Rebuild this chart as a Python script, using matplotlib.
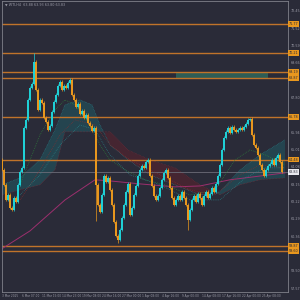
import matplotlib
matplotlib.use("Agg")
import matplotlib.pyplot as plt
import numpy as np

BG = "#2a2b38"
BULL = "#1fd0d6"
BEAR = "#e8971e"
LEVEL = "#c0732a"

# candle closes (H4), first open separately
first_open = 64.48
closes = [
    63.94, 63.14, 62.33, 62.60, 61.91, 61.80, 62.44, 62.23, 63.14, 63.83,
    64.05, 66.19, 66.62, 67.69, 68.34, 68.55, 69.73, 68.23, 67.16, 67.69,
    67.53, 66.73, 66.52, 66.09, 66.30, 67.05, 67.59, 67.96, 68.44, 68.66,
    68.23, 68.44, 68.34, 68.60, 68.77, 67.96, 67.69, 67.32, 67.48, 66.94,
    67.10, 66.73, 66.89, 66.46, 66.30, 66.03, 66.19, 63.14, 62.07, 61.69,
    62.60, 63.62, 63.30, 63.51, 62.87, 62.07, 61.16, 60.40, 60.19, 60.73,
    61.37, 62.07, 62.76, 63.19, 61.53, 61.91, 62.60, 63.08, 63.62, 63.94,
    64.16, 64.05, 64.37, 64.48, 63.62, 63.08, 62.55, 62.33, 62.55, 62.98,
    63.41, 63.78, 63.94, 63.51, 62.98, 62.44, 62.07, 62.33, 62.55, 62.33,
    62.76, 62.44, 62.07, 61.26, 61.80, 62.33, 62.55, 62.23, 62.66, 62.44,
    62.07, 62.55, 62.76, 62.44, 62.66, 62.98, 62.76, 63.19, 63.62, 64.21,
    65.01, 65.66, 65.98, 66.19, 65.93, 66.25, 66.09, 65.98, 66.09, 66.19,
    66.09, 66.25, 66.41, 66.62, 66.68, 65.82, 65.28, 65.12, 64.75, 64.21,
    63.94, 63.62, 63.94, 64.16, 64.26, 64.48, 64.21, 64.59, 64.75, 64.37,
    63.83,
]
spike_idx = [16, 58, 93, 124, 47]
spike_val = [70.21, 60.03, 60.73, 66.73, 61.20]

levels = [71.77, 70.21, 69.19, 68.87, 66.78, 64.48, 59.87, 59.60]
current = 63.83

zone_x = [87.0, 133.0]
zone_y = [68.87, 69.19]

ma_long_x = [-1, 14, 31.5, 46.5, 54, 69, 86.5, 99, 114, 141.5]
ma_long_y = [59.65, 60.67, 62.33, 63.41, 63.35, 63.19, 63.03, 63.08, 63.41, 63.78]
ma_green_x = [9, 14, 19, 26.5, 31.5, 36.5, 44, 49, 54, 61.5, 71.5, 81.5, 94, 106.5, 116.5, 124, 131.5, 141.5]
ma_green_y = [63.14, 64.48, 65.82, 67.16, 67.69, 67.43, 66.35, 65.28, 64.48, 63.94, 63.41, 63.14, 62.60, 62.87, 64.48, 65.01, 64.75, 64.21]
ma_red_x = [9, 19, 29, 36.5, 46.5, 54, 64, 79, 94, 106.5, 119, 129, 141.5]
ma_red_y = [62.33, 63.94, 65.82, 66.62, 66.35, 65.28, 64.48, 63.67, 62.87, 62.60, 63.67, 64.21, 64.05]
ma_teal_x = [9, 19, 29, 39, 46.5, 54, 64, 79, 94, 109, 121.5, 131.5, 141.5]
ma_teal_y = [62.60, 63.67, 65.28, 66.35, 66.09, 64.75, 63.67, 63.14, 62.33, 62.33, 63.51, 64.05, 64.05]

cloud_x = [0, 9, 19, 26.5, 31.5, 39, 45, 49, 54, 63, 74, 86.5, 99, 109, 119, 129, 141.5]
span_a = [63.14, 63.51, 64.48, 66.09, 67.43, 67.69, 67.43, 66.35, 65.28, 64.48, 63.67, 63.14, 62.60, 62.76, 63.94, 64.75, 65.55]
span_b = [62.60, 62.87, 63.14, 63.94, 65.98, 65.98, 65.98, 65.98, 65.98, 65.01, 64.48, 64.05, 63.14, 62.60, 63.14, 63.41, 63.51]

price_ticks = [72.45, 71.52, 70.59, 69.66, 67.80, 65.94, 65.01,
               64.08, 63.15, 62.22, 61.29, 60.36, 58.50, 57.57]
date_pos = [0, 10, 20, 30, 40, 50, 60, 70, 80, 90, 100, 110, 120, 130]
date_labels = ["3 Mar 2025", "6 Mar 07:00", "11 Mar 15:00", "14 Mar 23:00",
               "19 Mar 08:00", "24 Mar 16:00", "27 Mar 00:00", "1 Apr 08:00",
               "4 Apr 16:00", "9 Apr 00:00", "14 Apr 08:00", "17 Apr 16:00",
               "22 Apr 00:00", "25 Apr 08:00"]

fig = plt.figure(figsize=(3, 3), dpi=100, facecolor=BG)
ax = fig.add_axes([0.005, 0.027, 0.955, 0.970], facecolor=BG)
ax.set_xlim(-0.25, 143.0)
ax.set_ylim(57.40, 73.00)

# cloud
ca, cb = np.array(span_a), np.array(span_b)
ax.fill_between(cloud_x, ca, cb, where=ca >= cb, interpolate=True,
                color="#1d6a74", alpha=0.4, lw=0, zorder=1)
ax.fill_between(cloud_x, ca, cb, where=ca < cb, interpolate=True,
                color="#6e1e28", alpha=0.4, lw=0, zorder=1)
ax.plot(cloud_x, span_a, color="#2a8f96", lw=0.4, ls=":", zorder=1)
ax.plot(cloud_x, span_b, color="#8a2a35", lw=0.4, ls=":", zorder=1)

# zone + levels
ax.fill_between(zone_x, zone_y[0], zone_y[1], color="#2f6a5e", alpha=0.8, lw=0, zorder=1)
for lv in levels:
    ax.axhline(lv, color=LEVEL, lw=1.0, zorder=2)
ax.axhline(current, color="#6c6c78", lw=0.6, zorder=2)

# moving averages
ax.plot(ma_long_x, ma_long_y, color="#9c2f6e", lw=0.7, zorder=2)
ax.plot(ma_green_x, ma_green_y, color="#2f8c3c", lw=0.5, ls=":", zorder=2)
ax.plot(ma_red_x, ma_red_y, color="#8c2e2e", lw=0.5, ls=":", zorder=2)
ax.plot(ma_teal_x, ma_teal_y, color="#2a8a90", lw=0.5, ls=":", zorder=2)

# candles
opens = [first_open] + closes[:-1]
idx = np.arange(len(closes))
hi = [max(o, c) + 0.08 for o, c in zip(opens, closes)]
lo = [min(o, c) - 0.08 for o, c in zip(opens, closes)]
for i, v in zip(spike_idx, spike_val):
    if v > closes[i]:
        hi[i] = v
    else:
        lo[i] = v
cols = [BULL if c >= o else BEAR for o, c in zip(opens, closes)]
ax.vlines(idx, lo, hi, colors=cols, lw=0.5, zorder=3)
bottoms = [min(o, c) for o, c in zip(opens, closes)]
heights = [max(abs(c - o), 0.03) for o, c in zip(opens, closes)]
ax.bar(idx, heights, bottom=bottoms, width=0.75, color=cols, lw=0, zorder=3)

for s in ["left", "top", "bottom", "right"]:
    ax.spines[s].set_color("#80808a")
    ax.spines[s].set_linewidth(0.6)
ax.set_xticks([]); ax.set_yticks([])

# right price axis labels
trans = ax.get_yaxis_transform()
for t in price_ticks:
    ax.text(1.01, t, f"{t:.2f}", transform=trans, fontsize=2.4, color="#9a9aa6",
            va="center", ha="left", clip_on=False)
for lv in levels:
    ax.text(1.003, lv, f"{lv:.2f}", transform=trans, fontsize=2.4, color="#2a2b38",
            va="center", ha="left", clip_on=False,
            bbox=dict(boxstyle="square,pad=0.2", fc=BEAR, ec="none"))
ax.text(1.003, current, f"{current:.2f}", transform=trans, fontsize=2.4, color="#2a2b38",
        va="center", ha="left", clip_on=False,
        bbox=dict(boxstyle="square,pad=0.2", fc="#e8e8ee", ec="none"))

# date labels
xtrans = ax.get_xaxis_transform()
for p, lab in zip(date_pos, date_labels):
    ax.text(p, -0.007, lab, transform=xtrans, fontsize=2.1, color="#9a9aa6",
            va="top", ha="left", clip_on=False)

ax.text(0.012, 0.993, "\u25bc WTI,H4  63.88 63.93 63.80 63.83", transform=ax.transAxes,
        fontsize=2.4, color="#9a9aa6", va="top", ha="left")

fig.savefig("out.png", dpi=100, facecolor=BG)
